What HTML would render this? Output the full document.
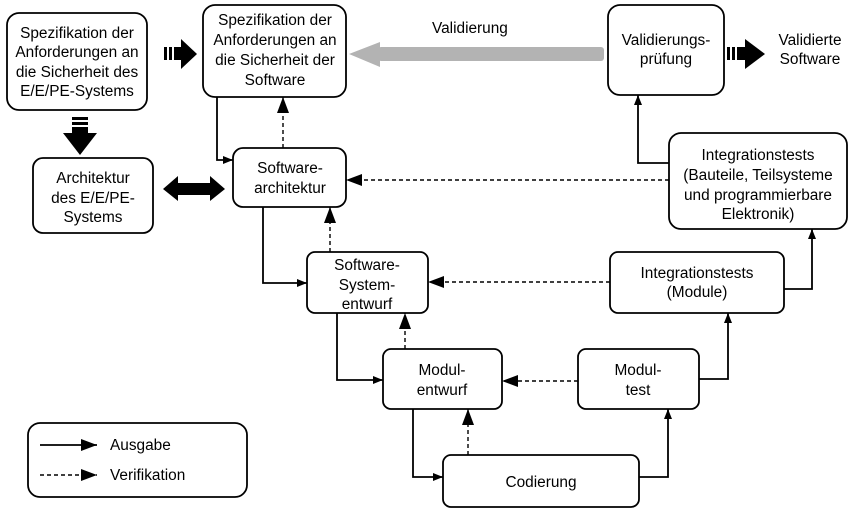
<!DOCTYPE html>
<html><head><meta charset="utf-8"><style>
html,body{margin:0;padding:0;background:#fff;width:857px;height:517px;overflow:hidden}
text{font-family:"Liberation Sans",sans-serif;font-size:15.4px;fill:#000}
</style></head><body>
<svg width="857" height="517" viewBox="0 0 857 517" xmlns="http://www.w3.org/2000/svg">
<defs>
<marker id="a" markerWidth="10" markerHeight="8" refX="10" refY="4" orient="auto" markerUnits="userSpaceOnUse"><path d="M0,0 L10,4 L0,8z" fill="#000"/></marker>
<marker id="b" markerWidth="16" markerHeight="12" refX="16" refY="6" orient="auto" markerUnits="userSpaceOnUse"><path d="M0,0 L16,6 L0,12z" fill="#000"/></marker>
</defs>
<g fill="#fff" stroke="#000" stroke-width="1.8">
<rect x="7" y="13" width="140" height="97" rx="12"/>
<rect x="203" y="5" width="143" height="92" rx="12"/>
<rect x="33" y="158" width="120" height="75" rx="10"/>
<rect x="233" y="148" width="113" height="59" rx="10"/>
<rect x="307" y="252" width="121" height="61" rx="8"/>
<rect x="383" y="349" width="119" height="60" rx="8"/>
<rect x="578" y="349" width="121" height="60" rx="8"/>
<rect x="443" y="455" width="196" height="52" rx="8"/>
<rect x="610" y="252" width="174" height="61" rx="8"/>
<rect x="669" y="133" width="178" height="96" rx="12"/>
<rect x="608" y="5" width="116" height="90" rx="12"/>
<rect x="28" y="423" width="219" height="74" rx="12"/>
</g>
<rect x="378" y="47" width="226" height="14" rx="3" fill="#b3b3b3"/>
<path d="M349,54 L380,42 L380,67z" fill="#b3b3b3"/>
<text x="432" y="33">Validierung</text>
<g fill="#000">
<rect x="164" y="47" width="3" height="13"/><rect x="169" y="47" width="3" height="13"/><rect x="174" y="47" width="8" height="13"/>
<path d="M181,39 L197,54 L181,69z"/>
<rect x="727" y="47" width="3" height="13"/><rect x="732" y="47" width="3" height="13"/><rect x="737" y="47" width="9" height="13"/>
<path d="M745,39 L765,54 L745,69z"/>
<rect x="72" y="117" width="16" height="3"/><rect x="72" y="122" width="16" height="3"/><rect x="72" y="127" width="16" height="7"/>
<path d="M63,133 L97,133 L80,155z"/>
<path d="M163,189 L178,176 L178,183 L210,183 L210,176 L225,189 L210,201 L210,195 L178,195 L178,201z"/>
</g>
<g fill="none" stroke="#000" stroke-width="1.8">
<path d="M217,97 V160 H233" marker-end="url(#a)"/>
<path d="M263,207 V283 H307" marker-end="url(#a)"/>
<path d="M337,313 V380 H383" marker-end="url(#a)"/>
<path d="M413,409 V477 H443" marker-end="url(#a)"/>
<path d="M639,477 H668 V409" marker-end="url(#a)"/>
<path d="M699,379 H728 V313" marker-end="url(#a)"/>
<path d="M784,289 H812 V229" marker-end="url(#a)"/>
<path d="M669,163 H638 V95" marker-end="url(#a)"/>
<path d="M40,445 H97" marker-end="url(#b)"/>
</g>
<g fill="none" stroke="#000" stroke-width="1.4" stroke-dasharray="4,3">
<path d="M283,148 V97" marker-end="url(#b)"/>
<path d="M669,180 H346" marker-end="url(#b)"/>
<path d="M330,252 V207" marker-end="url(#b)"/>
<path d="M610,282 H428" marker-end="url(#b)"/>
<path d="M405,349 V313" marker-end="url(#b)"/>
<path d="M578,381 H502" marker-end="url(#b)"/>
<path d="M468,455 V409" marker-end="url(#b)"/>
<path d="M40,475 H97" marker-end="url(#b)"/>
</g>
<g text-anchor="middle">
<text x="77" y="38">Spezifikation der</text>
<text x="77" y="57">Anforderungen an</text>
<text x="77" y="77">die Sicherheit des</text>
<text x="77" y="96">E/E/PE-Systems</text>
<text x="275" y="25">Spezifikation der</text>
<text x="275" y="45">Anforderungen an</text>
<text x="275" y="65">die Sicherheit der</text>
<text x="275" y="85">Software</text>
<text x="93" y="183">Architektur</text>
<text x="93" y="203">des E/E/PE-</text>
<text x="93" y="222">Systems</text>
<text x="290" y="173">Software-</text>
<text x="290" y="193">architektur</text>
<text x="367" y="270">Software-</text>
<text x="367" y="290">System-</text>
<text x="367" y="309">entwurf</text>
<text x="442" y="375">Modul-</text>
<text x="442" y="395">entwurf</text>
<text x="638" y="375">Modul-</text>
<text x="638" y="395">test</text>
<text x="541" y="487">Codierung</text>
<text x="697" y="278">Integrationstests</text>
<text x="697" y="297">(Module)</text>
<text x="758" y="160">Integrationstests</text>
<text x="758" y="180">(Bauteile, Teilsysteme</text>
<text x="758" y="200">und programmierbare</text>
<text x="758" y="219">Elektronik)</text>
<text x="666" y="45">Validierungs-</text>
<text x="666" y="64">prüfung</text>
<text x="810" y="45">Validierte</text>
<text x="810" y="64">Software</text>
</g>
<text x="110" y="450">Ausgabe</text>
<text x="110" y="480">Verifikation</text>
</svg>
</body></html>
